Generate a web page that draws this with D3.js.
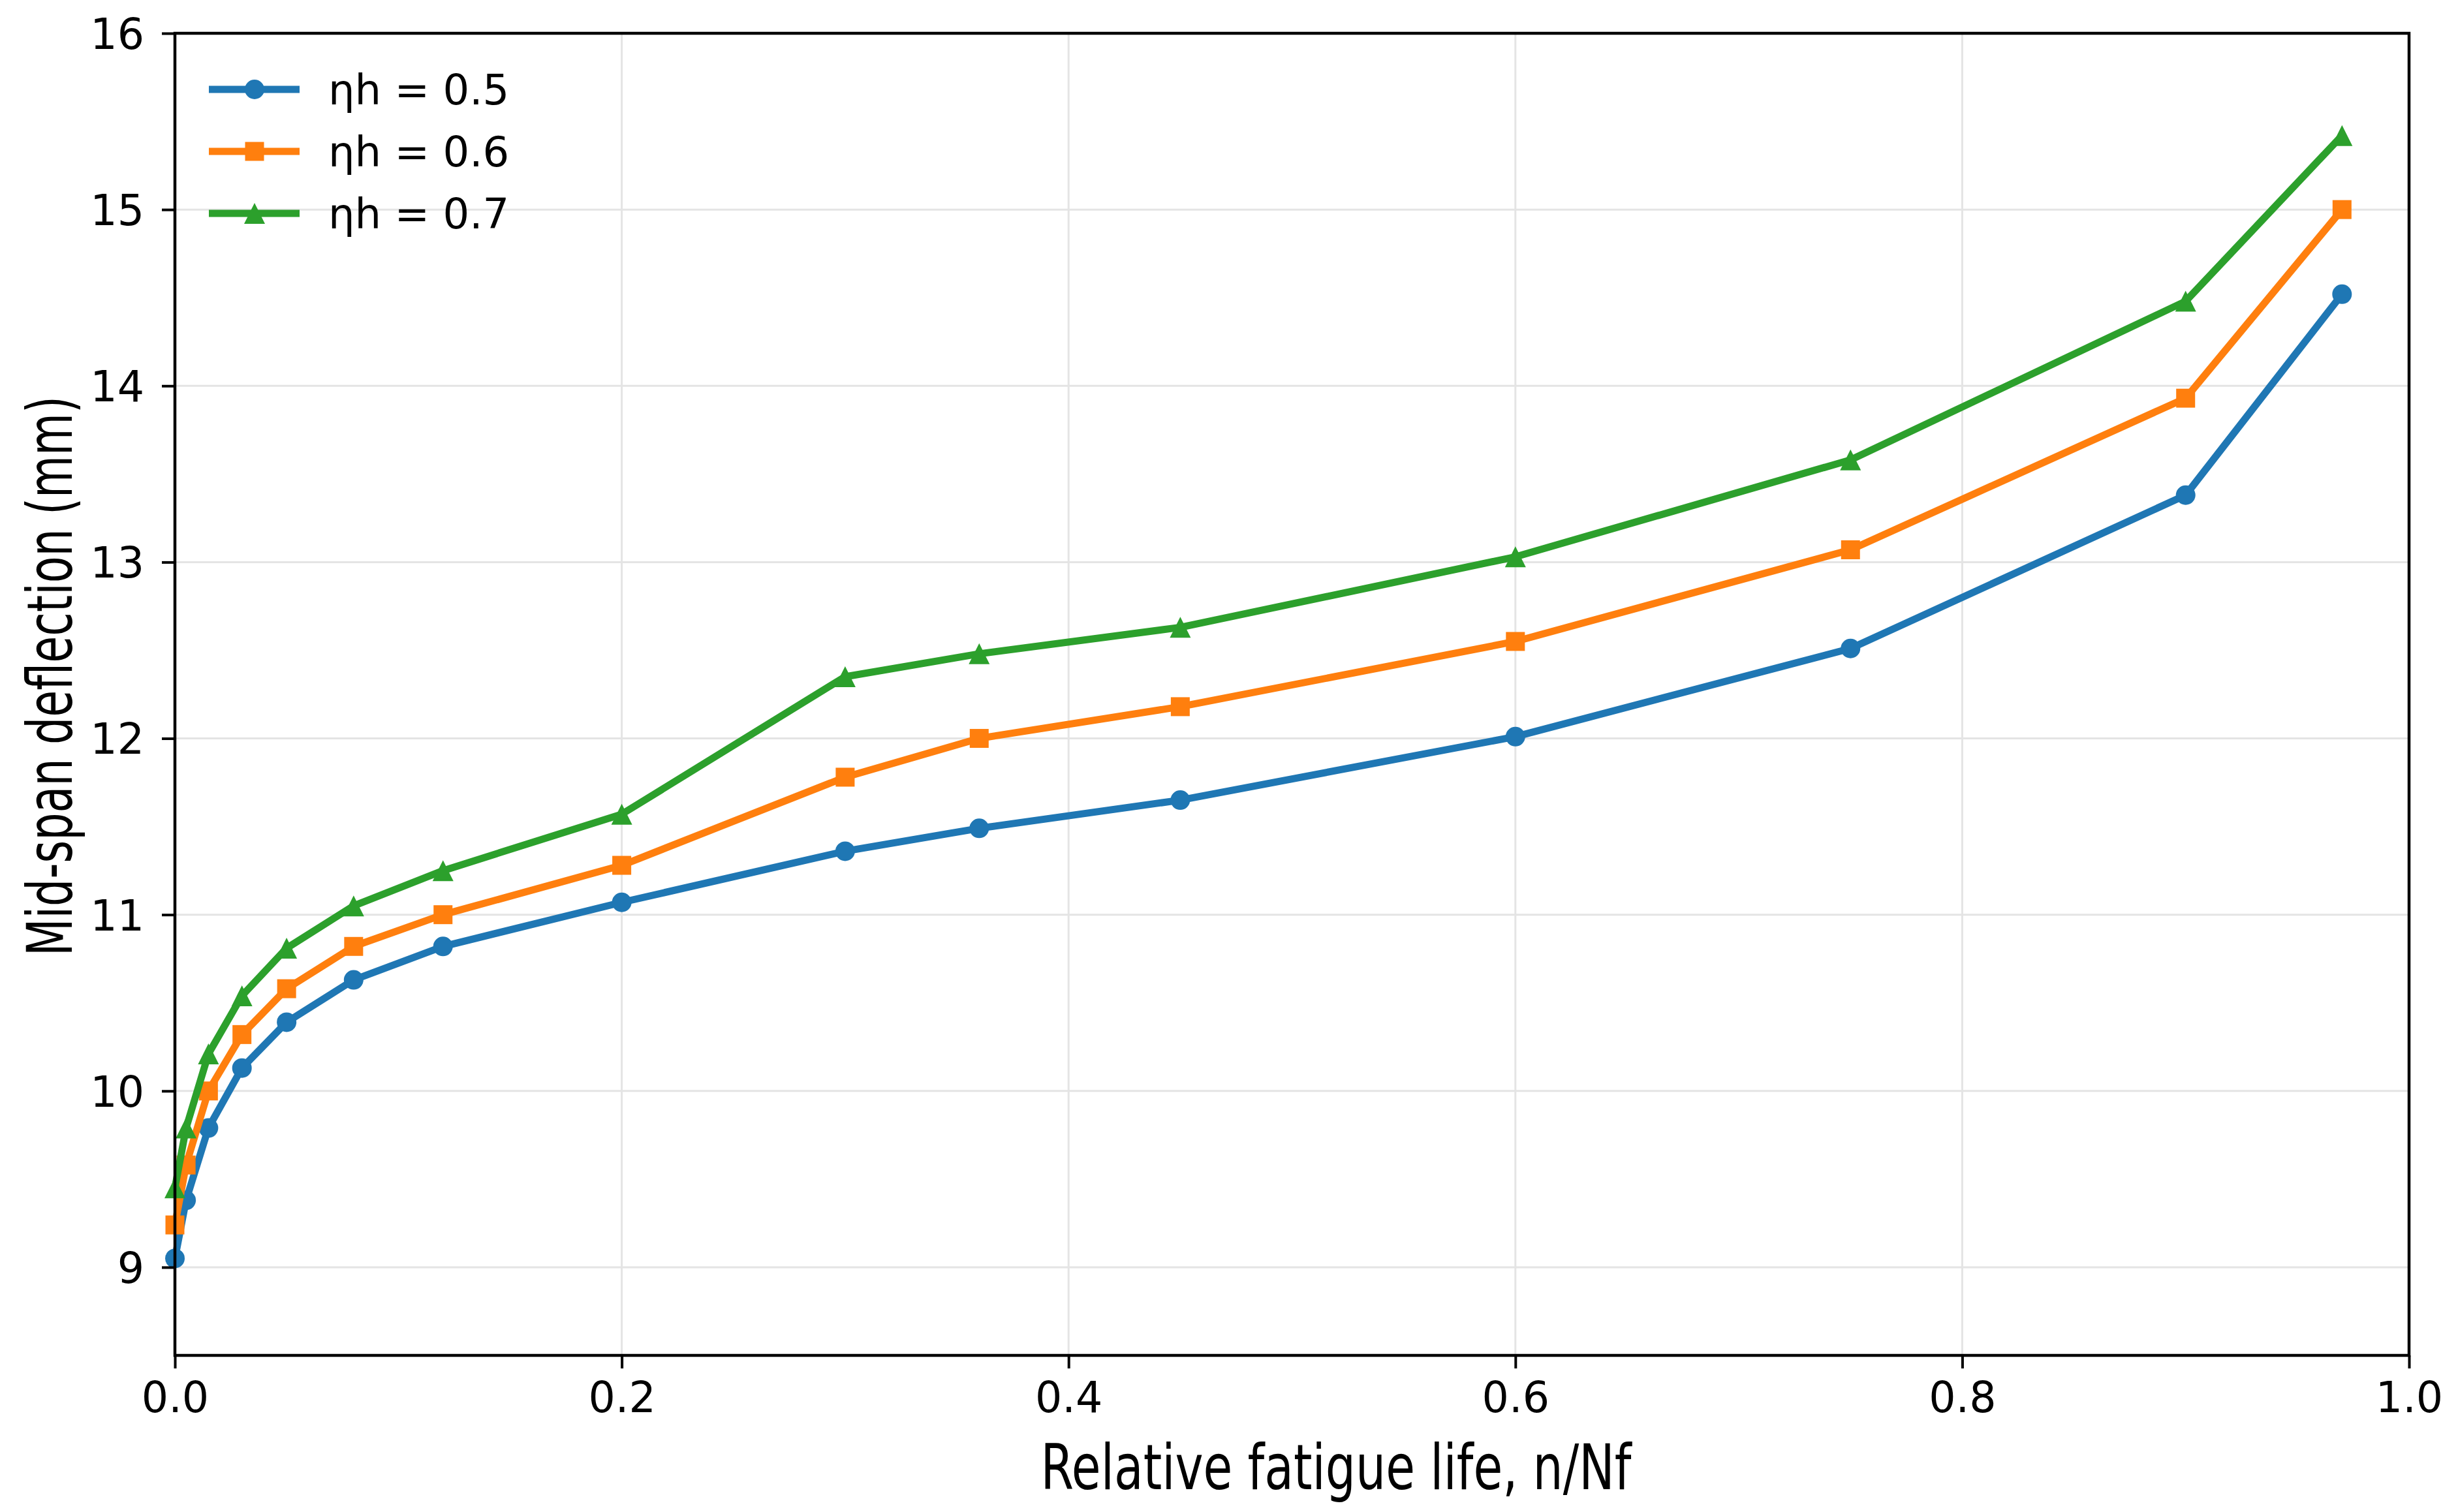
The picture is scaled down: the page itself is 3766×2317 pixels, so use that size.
<!DOCTYPE html>
<html>
<head>
<meta charset="utf-8">
<script src="https://cdn.jsdelivr.net/npm/d3@7"></script>
<style>
  body { margin: 0; background: #fff; }
  svg { display: block; font-family: 'DejaVu Sans', sans-serif; }
  .tick text { font-family: 'DejaVu Sans', sans-serif; }
</style>
</head>
<body>
<div id="chart"></div>
<script>
// relative fatigue life n/Nf
const lifeRatio = [0, 0.005, 0.015, 0.03, 0.05, 0.08, 0.12, 0.2, 0.3, 0.36, 0.45, 0.6, 0.75, 0.9, 0.97];
// mid-span deflection (mm) per load level
const defl05 = [9.05, 9.38, 9.79, 10.13, 10.39, 10.63, 10.82, 11.07, 11.36, 11.49, 11.65, 12.01, 12.51, 13.38, 14.52];
const defl06 = [9.24, 9.58, 10.0, 10.32, 10.58, 10.82, 11.0, 11.28, 11.78, 12.0, 12.18, 12.55, 13.07, 13.93, 15.0];
const defl07 = [9.45, 9.79, 10.21, 10.54, 10.81, 11.05, 11.25, 11.57, 12.35, 12.48, 12.63, 13.03, 13.58, 14.48, 15.42];
const seriesNames = ["ηh = 0.5", "ηh = 0.6", "ηh = 0.7"];
const xTicks = [0, 0.2, 0.4, 0.6, 0.8, 1.0];
const yTicks = [9, 10, 11, 12, 13, 14, 15, 16];

const W = 3766, H = 2317;
const margin = {top: 51, right: 75, bottom: 240, left: 268};
const colors = ["#1f77b4", "#ff7f0e", "#2ca02c"];
const shapes = ["circle", "square", "triangle"];

const series = [defl05, defl06, defl07].map((ys, i) => ({
  name: seriesNames[i],
  color: colors[i],
  shape: shapes[i],
  values: ys.map((y, j) => ({x: lifeRatio[j], y: y}))
}));

const svg = d3.select("#chart").append("svg")
  .attr("width", W)
  .attr("height", H);

const x = d3.scaleLinear().domain([0, 1]).range([margin.left, W - margin.right]);
const y = d3.scaleLinear().domain([8.5, 16]).range([H - margin.bottom, margin.top]);

// grid
const grid = svg.append("g");
grid.selectAll("line.gx").data(xTicks).enter().append("line")
  .attr("x1", d => x(d)).attr("x2", d => x(d))
  .attr("y1", y(8.5)).attr("y2", y(16))
  .attr("stroke", "#e4e4e4").attr("stroke-width", 3);
grid.selectAll("line.gy").data(yTicks).enter().append("line")
  .attr("x1", x(0)).attr("x2", x(1))
  .attr("y1", d => y(d)).attr("y2", d => y(d))
  .attr("stroke", "#e4e4e4").attr("stroke-width", 3);

function marker(shape, g, color) {
  if (shape === "circle") {
    g.append("circle").attr("r", 15).attr("fill", color);
  } else if (shape === "square") {
    g.append("rect").attr("x", -14.5).attr("y", -14.5).attr("width", 29).attr("height", 29).attr("fill", color);
  } else {
    const p = d3.path();
    p.moveTo(0, -16); p.lineTo(-16, 16); p.lineTo(16, 16); p.closePath();
    g.append("path").attr("d", p.toString()).attr("fill", color);
  }
}

const line = d3.line().x(d => x(d.x)).y(d => y(d.y));

series.forEach(s => {
  svg.append("path")
    .datum(s.values)
    .attr("d", line)
    .attr("fill", "none")
    .attr("stroke", s.color)
    .attr("stroke-width", 11)
    .attr("stroke-linejoin", "round");
  svg.append("g").selectAll("g").data(s.values).enter().append("g")
    .attr("transform", d => `translate(${x(d.x)},${y(d.y)})`)
    .each(function() { marker(s.shape, d3.select(this), s.color); });
});

// axes
const xAxis = svg.append("g")
  .attr("transform", `translate(0,${H - margin.bottom})`)
  .call(d3.axisBottom(x).tickValues(xTicks).tickFormat(d3.format(".1f")).tickSize(20).tickPadding(21));
const yAxis = svg.append("g")
  .attr("transform", `translate(${margin.left},0)`)
  .call(d3.axisLeft(y).tickValues(yTicks).tickFormat(d3.format("d")).tickSize(20).tickPadding(27));
[xAxis, yAxis].forEach(a => {
  a.select(".domain").remove();
  a.selectAll(".tick line").attr("stroke", "#000").attr("stroke-width", 4);
  a.selectAll(".tick text").attr("font-size", 65).attr("fill", "#000");
});
yAxis.selectAll(".tick text").attr("dy", "0.36em");

// frame
svg.append("rect")
  .attr("x", x(0)).attr("y", y(16))
  .attr("width", x(1) - x(0)).attr("height", y(8.5) - y(16))
  .attr("fill", "none").attr("stroke", "#000").attr("stroke-width", 4.5);

// axis titles
svg.append("text")
  .attr("x", 2047).attr("y", 2282)
  .attr("text-anchor", "middle")
  .attr("font-size", 96)
  .attr("textLength", 905)
  .attr("lengthAdjust", "spacingAndGlyphs")
  .text("Relative fatigue life, n/Nf");
svg.append("text")
  .attr("transform", "translate(110,1036) rotate(-90)")
  .attr("text-anchor", "middle")
  .attr("font-size", 96)
  .attr("textLength", 858)
  .attr("lengthAdjust", "spacingAndGlyphs")
  .text("Mid-span deflection (mm)");

// legend
const legend = svg.append("g");
series.forEach((s, i) => {
  const row = legend.append("g").attr("transform", `translate(0,${137 + i * 95})`);
  row.append("line").attr("x1", 320).attr("x2", 459)
    .attr("stroke", s.color).attr("stroke-width", 11);
  const m = row.append("g").attr("transform", "translate(390,0)");
  marker(s.shape, m, s.color);
  row.append("text").attr("x", 503).attr("y", 23)
    .attr("font-size", 64).attr("fill", "#000")
    .text(s.name);
});
</script>
</body>
</html>
